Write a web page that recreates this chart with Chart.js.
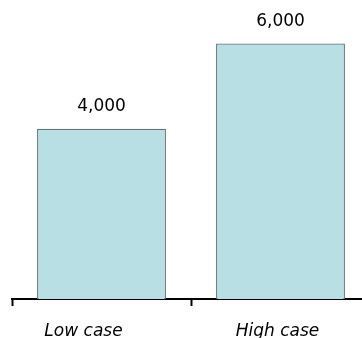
<!DOCTYPE html>
<html>
<head>
<meta charset="utf-8">
<script src="https://cdn.jsdelivr.net/npm/chart.js@4"></script>
<style>
  html, body { margin: 0; padding: 0; background: #ffffff; overflow: hidden; }
  #wrap { width: 362px; height: 338px; overflow: hidden; }
  canvas { display: block; }
</style>
</head>
<body>
<div id="wrap"><canvas id="c" width="372" height="338"></canvas></div>
<script>
// Scenario categories and their values
const categories = ['Low case', 'High case'];
const values = [4000, 6000];
// Small horizontal nudges for the category captions (px)
const captionNudge = [-18, -3];

const FONT = '"DejaVu Sans", Verdana, sans-serif';

// Writes the value above each bar and the italic caption under the axis
const annotate = {
  id: 'annotate',
  afterDatasetsDraw(chart) {
    const ctx = chart.ctx;
    const meta = chart.getDatasetMeta(0);
    const xs = chart.scales.x;
    ctx.save();
    ctx.fillStyle = '#000000';
    ctx.textAlign = 'center';
    ctx.textBaseline = 'alphabetic';
    ctx.font = '17px ' + FONT;
    meta.data.forEach((bar, i) => {
      ctx.fillText(values[i].toLocaleString('en-US'), bar.x, bar.y - 18);
    });
    ctx.font = 'italic 17px ' + FONT;
    categories.forEach((cat, i) => {
      ctx.fillText(cat, xs.getPixelForValue(i) + captionNudge[i], 336);
    });
    ctx.restore();
  }
};

new Chart(document.getElementById('c'), {
  type: 'bar',
  data: {
    labels: categories,
    datasets: [{
      data: values,
      backgroundColor: '#b8e0e4',
      borderColor: '#607476',
      borderWidth: 1.3,
      borderSkipped: 'bottom',
      barPercentage: 0.72,
      categoryPercentage: 1.0
    }]
  },
  options: {
    responsive: false,
    animation: false,
    layout: { padding: { left: 12, right: 2, top: 1, bottom: 32 } },
    plugins: { legend: { display: false }, tooltip: { enabled: false } },
    scales: {
      x: {
        offset: true,
        grid: {
          offset: true,
          drawOnChartArea: false,
          drawTicks: true,
          tickLength: 7,
          tickWidth: 2,
          tickColor: '#000000'
        },
        border: { display: true, color: '#000000', width: 2 },
        ticks: { display: false }
      },
      y: {
        display: false,
        min: 0,
        max: 7000
      }
    }
  },
  plugins: [annotate]
});
</script>
</body>
</html>
